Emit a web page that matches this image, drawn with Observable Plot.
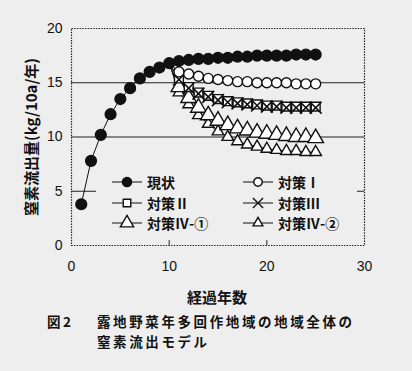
<!DOCTYPE html>
<html><head><meta charset="utf-8">
<script src="https://cdn.jsdelivr.net/npm/d3@7"></script>
<script src="https://cdn.jsdelivr.net/npm/@observablehq/plot@0.6"></script>
<style>
html,body{margin:0;padding:0;background:#eeeeee;}
#wrap{position:relative;width:412px;height:371px;overflow:hidden;font-family:"Noto Sans CJK JP",sans-serif;color:#111;}
#chart{position:absolute;left:0;top:0;}
.ylab{position:absolute;left:30px;top:137px;transform:translate(-50%,-50%) rotate(-90deg);white-space:nowrap;font-size:15px;font-weight:700;}
.xlab{position:absolute;left:217px;top:296px;transform:translate(-50%,-50%);font-size:15px;font-weight:700;white-space:nowrap;}
.cap{position:absolute;font-size:13.5px;font-weight:700;white-space:nowrap;letter-spacing:2.6px;line-height:20px;}
#legend{position:absolute;left:96px;top:171px;width:261px;height:66px;background:#eeeeee;}
.li{position:absolute;display:flex;align-items:center;font-size:14px;font-weight:700;white-space:nowrap;}
.li svg{display:block;margin-right:5px;}
</style></head>
<body><div id="wrap"><div id="chart"></div>
<div class="ylab">窒素流出量(kg/10a/年)</div>
<div class="xlab">経過年数</div>
<div class="cap" style="left:47px;top:311px;">図2</div>
<div class="cap" style="left:97px;top:311px;">露地野菜年多回作地域の地域全体の</div>
<div class="cap" style="left:97px;top:331px;">窒素流出モデル</div>
<div id="legend"></div>
</div>
<script>
const yearsAll = [1,2,3,4,5,6,7,8,9,10,11,12,13,14,15,16,17,18,19,20,21,22,23,24,25];
const genjo = [3.8,7.8,10.2,12.1,13.5,14.5,15.4,16.0,16.4,16.8,17.0,17.1,17.2,17.2,17.3,17.3,17.4,17.4,17.5,17.5,17.5,17.5,17.6,17.6,17.6];
const yearsMeasure = [10,11,12,13,14,15,16,17,18,19,20,21,22,23,24,25];
const taisaku1 = [16.8,16.0,15.8,15.6,15.4,15.3,15.2,15.1,15.1,15.0,15.0,15.0,15.0,14.9,14.9,14.9];
const taisaku2 = [16.8,15.4,14.6,14.1,13.8,13.5,13.3,13.2,13.1,13.0,12.9,12.9,12.8,12.8,12.8,12.8];
const taisaku3 = [16.8,15.3,14.5,14.0,13.7,13.4,13.2,13.1,13.0,12.9,12.8,12.8,12.7,12.7,12.7,12.7];
const taisaku4a = [16.8,14.6,13.6,12.7,12.0,11.5,11.1,10.8,10.6,10.4,10.3,10.2,10.1,10.0,10.0,9.9];
const taisaku4b = [16.8,14.1,13.0,12.0,11.2,10.5,10.0,9.6,9.3,9.1,8.9,8.8,8.7,8.7,8.6,8.6];
const xTicks = [0,10,20,30];
const yTicks = [0,5,10,15,20];
const gridY = [5,10,15];
const innerTicksX = [10,20];

const seriesNames = ["現状","対策Ⅰ","対策Ⅱ","対策Ⅲ","対策Ⅳ-①","対策Ⅳ-②"];
const styles = {
  "現状":{symbol:"circle",r:5.4,fill:"#111"},
  "対策Ⅰ":{symbol:"circle",r:5,fill:"white"},
  "対策Ⅱ":{symbol:"square",r:5,fill:"white"},
  "対策Ⅲ":{symbol:"times",r:5.5,fill:"none"},
  "対策Ⅳ-①":{symbol:"triangle",r:5.8,fill:"white"},
  "対策Ⅳ-②":{symbol:"triangle",r:4.3,fill:"white"}
};
function toRows(name, xs, ys){ return xs.map((x,i)=>({name, x, y: ys[i]})); }
const data = {
  "現状": toRows("現状", yearsAll, genjo),
  "対策Ⅰ": toRows("対策Ⅰ", yearsMeasure, taisaku1),
  "対策Ⅱ": toRows("対策Ⅱ", yearsMeasure, taisaku2),
  "対策Ⅲ": toRows("対策Ⅲ", yearsMeasure, taisaku3),
  "対策Ⅳ-①": toRows("対策Ⅳ-①", yearsMeasure, taisaku4a),
  "対策Ⅳ-②": toRows("対策Ⅳ-②", yearsMeasure, taisaku4b)
};
const drawOrder = ["対策Ⅳ-②","対策Ⅳ-①","対策Ⅱ","対策Ⅲ","対策Ⅰ","現状"];
const lineMarks = drawOrder.map(n => Plot.line(data[n], {x:"x", y:"y", stroke:"#111", strokeWidth:1}));
const dotMarks = drawOrder.map(n => {
  const s = styles[n];
  const rows = n === "現状" ? data[n] : data[n].filter(d => d.x > 10);
  return Plot.dot(rows, {x:"x", y:"y", symbol:()=>s.symbol, r:s.r, fill:s.fill, stroke:"#111", strokeWidth: n==="対策Ⅲ"?1.6:1.4});
});

const chart = Plot.plot({
  width: 412, height: 305,
  marginLeft: 71, marginRight: 48, marginTop: 28, marginBottom: 60,
  style: {background:"transparent", fontFamily:"'Liberation Sans', Arial, sans-serif", fontSize:"14px", color:"#111"},
  x: {domain:[0,30]},
  y: {domain:[0,20]},
  symbol: {type:"identity"},
  marks: [
    Plot.ruleY(gridY, {stroke:"#222", strokeWidth:1}),
    Plot.frame({stroke:"#222", strokeWidth:1.2, strokeDasharray:"1.5,1.2"}),
    Plot.ruleX(innerTicksX, {y1:0, y2:0.45, stroke:"#222"}),
    Plot.axisX({ticks:xTicks, tickSize:0, tickPadding:16, label:null, fontSize:14}),
    Plot.axisY({ticks:yTicks, tickSize:0, tickPadding:9, label:null, fontSize:14}),
    ...lineMarks,
    ...dotMarks
  ]
});
document.getElementById("chart").appendChild(chart);

// legend
const legend = document.getElementById("legend");
const legendPos = [
  ["現状", 16, 11], ["対策Ⅰ", 147, 11],
  ["対策Ⅱ", 16, 32], ["対策Ⅲ", 147, 32],
  ["対策Ⅳ-①", 16, 52], ["対策Ⅳ-②", 147, 52]
];
const sym = {circle:d3.symbolCircle, square:d3.symbolSquare, times:d3.symbolTimes, triangle:d3.symbolTriangle};
legendPos.forEach(([n, lx, ly]) => {
  const s = styles[n];
  const r = s.r * 0.85;
  const path = d3.symbol(sym[s.symbol], Math.PI * r * r)();
  const div = document.createElement("div");
  div.className = "li";
  div.style.left = lx + "px";
  div.style.top = (ly - 10) + "px";
  div.innerHTML = `<svg width="30" height="20" viewBox="-15 -10 30 20"><line x1="-15" x2="15" y1="0" y2="0" stroke="#111" stroke-width="1"/><path d="${path}" fill="${s.fill}" stroke="#111" stroke-width="1.4"/></svg><span>${n}</span>`;
  legend.appendChild(div);
});
</script></body></html>
